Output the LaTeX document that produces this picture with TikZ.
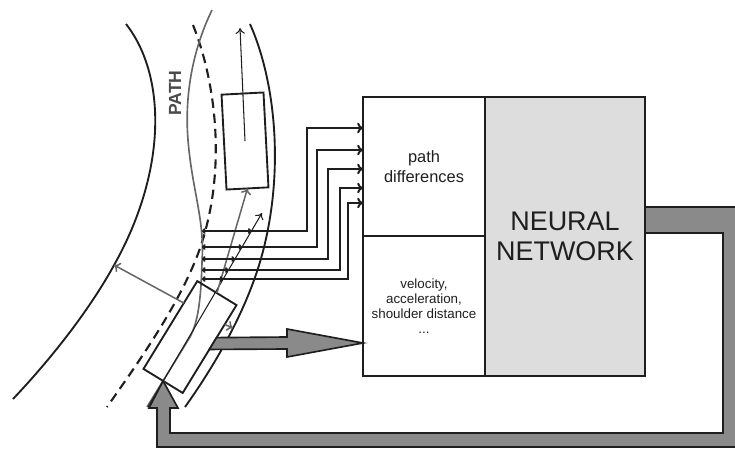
\documentclass[tikz,border=0pt]{standalone}
\usepackage{fontspec}
\setmainfont{Liberation Sans}
\usetikzlibrary{positioning, arrows.meta, calc}
\definecolor{ink}{HTML}{1E1E1E}
\definecolor{trailgray}{HTML}{666666}
\definecolor{labelgray}{HTML}{4A4A4A}
\definecolor{bandgray}{HTML}{8A8A8A}
\definecolor{nnfill}{HTML}{DDDDDD}
\tikzset{
  road/.style={draw=ink, line width=1.6pt},
  centreline/.style={draw=ink, line width=1.8pt, dash pattern=on 8pt off 5pt},
  trail/.style={draw=trailgray, line width=1.4pt},
  car/.style={rectangle, draw=ink, line width=1.6pt, inner sep=0pt, outer sep=0pt},
  block/.style={rectangle, draw=ink, line width=1.8pt, inner sep=0pt, outer sep=0pt, align=center, text=ink},
  heading/.style={ink, line width=0.9pt, -{To[length=5pt,width=8pt]}},
  diffarrow/.style={ink, line width=1.4pt, {To[length=3pt,width=5pt]}-{To[length=3pt,width=5pt]}},
  feed/.style={ink, line width=1.7pt, -{To[length=5pt,width=9pt]}},
  grayarrow/.style={trailgray, line width=1.3pt, -{To[length=5pt,width=9pt]}},
  fatarrow/.style={draw=ink, fill=bandgray, line width=1.4pt, line join=miter}
}

\begin{document}
\begin{tikzpicture}[x=0.03cm, y=-0.03cm]
    \useasboundingbox (0,0) rectangle (735,449);

    % ==========================================
    % ROAD
    % ==========================================

    % Road edges
    \draw[road] (126,24) .. controls (166,75) and (168,170) .. (113,267) .. controls (88,312) and (50,360) .. (13,399);
    \draw[road] (250,24) .. controls (275,80) and (285,170) .. (262,255) .. controls (247,310) and (215,365) .. (185,407);
    \coordinate (lhit) at (114,265);
    \coordinate (rhit) at (233,328);

    % Centre line
    \draw[centreline] (193,25) .. controls (215,80) and (225,160) .. (205,232) .. controls (190,290) and (140,360) .. (107,407);

    % Planned path
    \draw[trail] (212,10) .. controls (195,45) and (184,90) .. (188,140) .. controls (192,190) and (205,220) .. (202,262) .. controls (201,300) and (198,322) .. (190,337) -- (147,407);
    \node[rotate=90, font=\fontsize{15}{17}\selectfont\bfseries, text=labelgray] (pathlabel) at (175,93) {PATH};

    % --- CARS ---
    \node[car, minimum width=1.26cm, minimum height=2.85cm, rotate=3] (lead) at (245,141) {};
    \node[car, minimum width=1.38cm, minimum height=3.09cm, rotate=-31.5] (ego) at (190,337) {};

    \coordinate (leadgoal) at (240,28);
    \draw[heading] (lead.center) -- (leadgoal);

    \coordinate (hdtail) at (148,407);
    \coordinate (hdtip) at (262,213);
    \draw[heading] (hdtail) -- (hdtip);

    % Distances
    \draw[grayarrow] (ego.north) -- (lead.south);
    \draw[grayarrow] ($(ego.north west)!0.25!(ego.south west)$) -- (lhit);
    \draw[grayarrow] ($(ego.north east)!0.22!(ego.south east)$) -- (rhit);

    % ==========================================
    % NETWORK
    % ==========================================

    \node[block, minimum width=3.66cm, minimum height=4.17cm, font=\fontsize{14}{17}\selectfont] (diffs) at (424,166.5) {path\\differences};
    \node[block, below=0pt of diffs, minimum width=3.66cm, minimum height=4.2cm, font=\fontsize{11.4}{12.8}\selectfont] (state) {velocity,\\acceleration,\\shoulder distance\\...};

    % --- PATH DIFFERENCES ---
    \foreach \i/\yy/\xv/\ya in {1/231/307/128, 2/247/317/150, 3/259/328/169, 4/270/340/188, 5/279/348/203} {
        \coordinate (trail\i) at (202,\yy);
        \coordinate (hd\i) at (intersection of hdtail--hdtip and 0,\yy--400,\yy);
        \draw[diffarrow] (trail\i) -- (hd\i);
        \draw[feed] (hd\i) -| (\xv,\ya) -- (diffs.west |- 0,\ya);
    }

    % --- STATE INPUT ---
    \coordinate (fa1) at ($(ego.north east)!0.37!(ego.south east)$);
    \coordinate (fa2) at ($(ego.north east)!0.505!(ego.south east)$);
    \draw[fatarrow] (fa1) -- (287,337) -- (287,329) -- (state.west |- 0,343) -- (287,357) -- (287,349) -- (fa2) -- cycle;

    % --- FEEDBACK ---
    \node[block, fill=nnfill, anchor=north west, minimum width=4.8cm, minimum height=8.37cm, font=\fontsize{23}{25.5}\selectfont] (nn) at (diffs.north east) {NEURAL\\NETWORK};
    \draw[fatarrow] (nn.east |- 0,207) -- (738,207) -- (738,447) -- (157,447) -- (157,408) -- (149,408) -- (ego.south) -- (178,408) -- (170,408) -- (170,433) -- (723,433) -- (723,233) -- (nn.east |- 0,233) -- cycle;

\end{tikzpicture}
\end{document}
